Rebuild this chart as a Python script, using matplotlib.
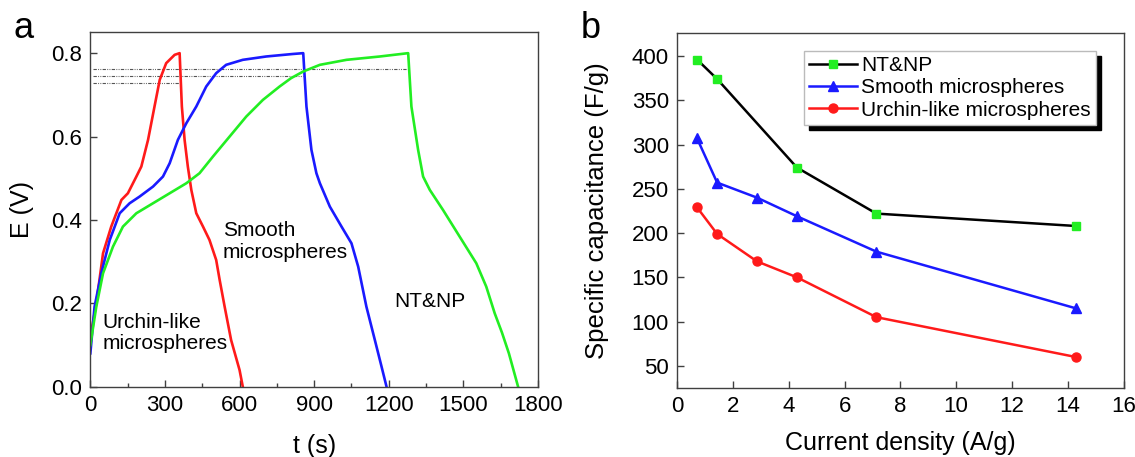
import matplotlib
import numpy as np

matplotlib.use("Agg")
import matplotlib.pyplot as plt
from matplotlib.ticker import FormatStrFormatter, MultipleLocator

plt.rcParams["font.family"] = ["Liberation Sans", "DejaVu Sans"]

# ---- panel a: charge/discharge curves (t in s, E in V) ----
urchin_t = [0, 24, 51, 84, 125, 151, 185, 205, 232, 258, 279, 305, 339, 359,
            368, 379, 392, 406, 426, 453, 479, 506, 520, 540, 566, 600, 613]
urchin_e = [0.12, 0.20, 0.32, 0.384, 0.448, 0.464, 0.504, 0.528, 0.592, 0.672, 0.736, 0.776, 0.796, 0.80,
            0.672, 0.592, 0.528, 0.472, 0.416, 0.384, 0.352, 0.304, 0.256, 0.192, 0.112, 0.04, 0.0]

smooth_t = [0, 17, 44, 78, 118, 158, 198, 252, 292, 319, 352, 386, 426, 466, 506, 546,
            613, 707, 814, 856,
            869, 889, 909, 923, 963, 1010, 1050, 1077, 1110, 1144, 1171, 1191]
smooth_e = [0.08, 0.192, 0.272, 0.352, 0.416, 0.44, 0.456, 0.48, 0.504, 0.536, 0.592, 0.632, 0.672, 0.72, 0.752, 0.772,
            0.784, 0.792, 0.798, 0.80,
            0.672, 0.568, 0.512, 0.488, 0.432, 0.384, 0.344, 0.288, 0.192, 0.112, 0.048, 0.0]

ntnp_t = [0, 24, 51, 91, 131, 185, 252, 319, 386, 439, 493, 560, 627, 694, 761, 807,
          856, 923, 1030, 1164, 1278,
          1291, 1318, 1338, 1365, 1418, 1485, 1552, 1592, 1626, 1655, 1683, 1720]
ntnp_e = [0.10, 0.192, 0.272, 0.336, 0.384, 0.416, 0.44, 0.464, 0.488, 0.512, 0.552, 0.60, 0.648, 0.688, 0.72, 0.74,
          0.756, 0.772, 0.784, 0.792, 0.80,
          0.672, 0.568, 0.504, 0.472, 0.424, 0.36, 0.296, 0.24, 0.176, 0.13, 0.08, 0.0]

# dash-dot-dot reference levels: (E level, end time)
ref_levels = [0.762, 0.746, 0.728]
ref_ends = [1282, 856, 361]

# ---- panel b: rate capability ----
density_all = [0.71, 1.43, 2.86, 4.29, 7.14, 14.29]
density_ntnp = [0.71, 1.43, 4.29, 7.14, 14.29]
cap_ntnp = [396, 374, 274, 222, 208]
cap_smooth = [307, 257, 240, 219, 179, 115]
cap_urchin = [229, 199, 168, 150, 105, 60]

fig = plt.figure(figsize=(11.35, 4.57), dpi=100)
ax1 = fig.add_axes([0.0796, 0.1538, 0.3944, 0.7755])
ax2 = fig.add_axes([0.5967, 0.1510, 0.3932, 0.7768])

frame_color = "#404040"
for ax in (ax1, ax2):
    for spine in ax.spines.values():
        spine.set_color(frame_color)
        spine.set_linewidth(1.0)
    ax.tick_params(direction="in", length=5, width=1.0, labelsize=16,
                   color=frame_color, pad=6)
    ax.tick_params(which="minor", direction="in", length=3, width=1.0, color=frame_color)

# panel a
for level, t_end in zip(ref_levels, ref_ends):
    ax1.plot([10, t_end], [level, level], color="#555555", linewidth=0.8,
             dashes=[3, 1.2, 0.8, 1.2, 0.8, 1.2])
ax1.plot(urchin_t, urchin_e, color="#ff1a1a", linewidth=1.9)
ax1.plot(smooth_t, smooth_e, color="#1a1aff", linewidth=1.9)
ax1.plot(ntnp_t, ntnp_e, color="#22ee22", linewidth=1.9)

ax1.text(48, 0.128, "Urchin-like\nmicrospheres", fontsize=15, va="center",
         linespacing=1.15, color="black")
ax1.text(533, 0.348, "Smooth\nmicrospheres", fontsize=15, va="center",
         linespacing=1.15, color="black")
ax1.text(1224, 0.204, "NT&NP", fontsize=15, va="center", color="black")

ax1.set_xlim(0, 1800)
ax1.set_ylim(0, 0.85)
ax1.xaxis.set_major_locator(MultipleLocator(300))
ax1.xaxis.set_minor_locator(MultipleLocator(150))
ax1.yaxis.set_major_locator(MultipleLocator(0.2))
ax1.yaxis.set_major_formatter(FormatStrFormatter("%.1f"))
ax1.set_xlabel("t (s)", fontsize=18, labelpad=13)
ax1.set_ylabel("E (V)", fontsize=18, labelpad=12)

# panel b
ax2.plot(density_ntnp, cap_ntnp, color="black", linewidth=1.8, marker="s",
         markersize=6, markerfacecolor="#22ee22", markeredgecolor="#22ee22",
         label="NT&NP")
ax2.plot(density_all, cap_smooth, color="#1a1aff", linewidth=1.8, marker="^",
         markersize=7.5, markerfacecolor="#1a1aff", markeredgecolor="#1a1aff",
         label="Smooth microspheres")
ax2.plot(density_all, cap_urchin, color="#ff1a1a", linewidth=1.8, marker="o",
         markersize=6.5, markerfacecolor="#ff1a1a", markeredgecolor="#ff1a1a",
         label="Urchin-like microspheres")

ax2.set_xlim(0, 16)
ax2.set_ylim(25, 426)
ax2.xaxis.set_major_locator(MultipleLocator(2))
ax2.set_yticks(np.arange(50, 401, 50))
ax2.set_xlabel("Current density (A/g)", fontsize=18, labelpad=10)
ax2.set_ylabel("Specific capacitance (F/g)", fontsize=18.5, labelpad=16)

leg = ax2.legend(loc="upper right", bbox_to_anchor=(0.938, 0.949), fontsize=15,
                 frameon=True, fancybox=False, handlelength=2.3,
                 handletextpad=0.2, borderpad=0.25, labelspacing=0.15,
                 borderaxespad=0.0,
                 shadow={"color": "black", "alpha": 1.0, "ox": 3.5, "oy": -3.5})
leg.get_frame().set_edgecolor("#bbbbbb")
leg.get_frame().set_linewidth(1.0)

fig.text(0.012, 0.975, "a", fontsize=26, va="top")
fig.text(0.512, 0.975, "b", fontsize=26, va="top")

fig.savefig("out.png", dpi=100)
